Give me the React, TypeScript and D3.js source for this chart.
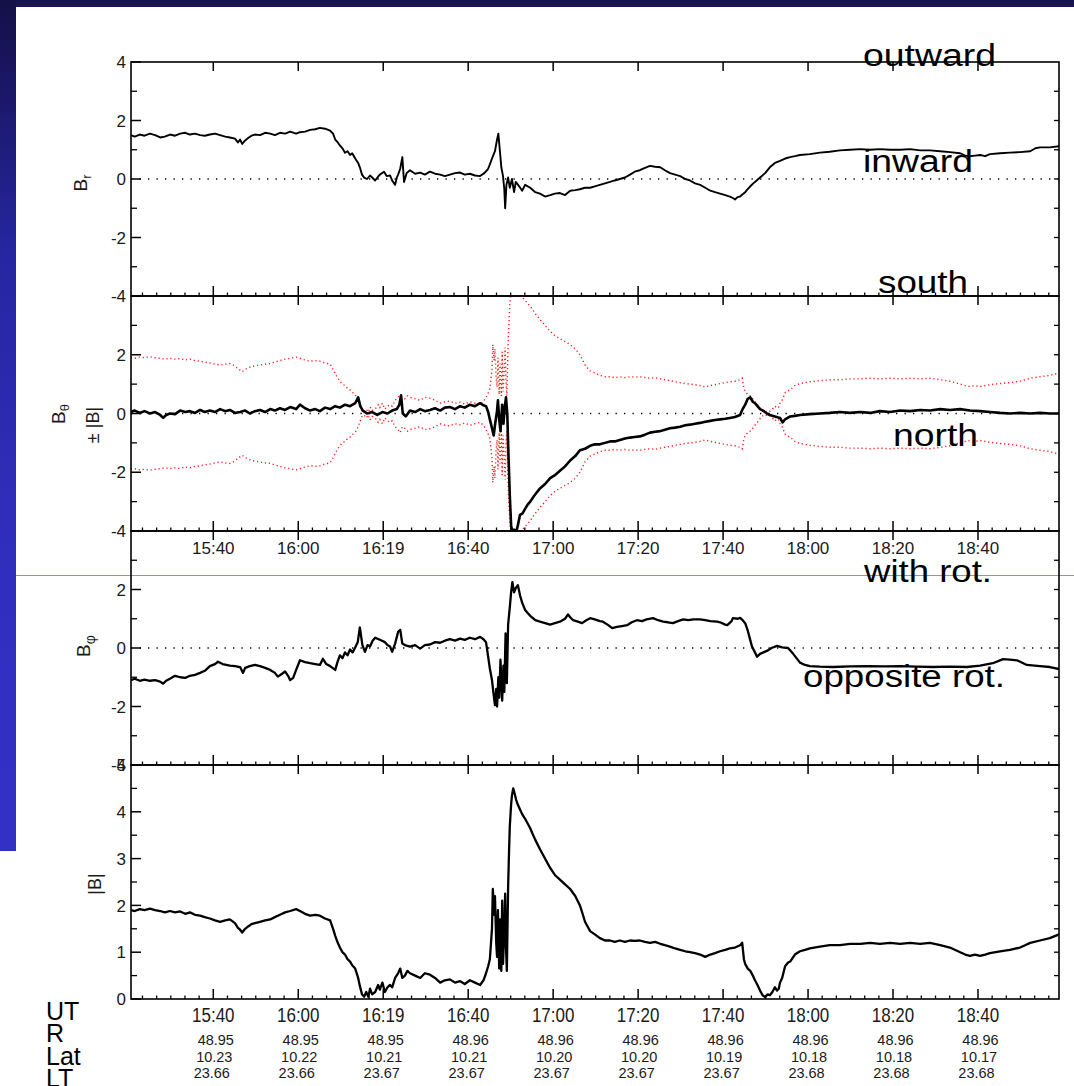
import React, { useEffect } from "react";
import * as d3 from "d3";

// ---------- data (time in minutes after 15:00 UT) ----------
const tickMinutes = [40, 60, 80, 100, 120, 140, 160, 180, 200, 220];
const tickLabels = ["15:40", "16:00", "16:19", "16:40", "17:00", "17:20", "17:40", "18:00", "18:20", "18:40"];
const rValues = ["48.95", "48.95", "48.95", "48.96", "48.96", "48.96", "48.96", "48.96", "48.96", "48.96"];
const latValues = ["10.23", "10.22", "10.21", "10.21", "10.20", "10.20", "10.19", "10.18", "10.18", "10.17"];
const ltValues = ["23.66", "23.66", "23.67", "23.67", "23.67", "23.67", "23.67", "23.68", "23.68", "23.68"];
const rowNames = ["UT", "R", "Lat", "LT"];

const brData: [number, number][] = [
  [20.6,1.50],[21.5,1.45],[22.7,1.52],[23.8,1.48],[25.1,1.55],[26.3,1.50],[27.5,1.42],[28.6,1.45],[29.8,1.52],[31.0,1.48],
  [32.2,1.55],[33.4,1.58],[34.5,1.52],[35.7,1.55],[36.9,1.50],[38.0,1.48],[39.2,1.52],[40.4,1.55],[41.6,1.50],[42.8,1.45],
  [43.9,1.42],[45.1,1.38],[45.8,1.25],[46.3,1.35],[46.8,1.20],[47.5,1.32],[48.2,1.40],[49.0,1.48],[49.8,1.52],[51.0,1.50],
  [52.2,1.58],[53.4,1.55],[54.5,1.50],[55.7,1.58],[56.9,1.55],[58.1,1.62],[59.5,1.55],[60.4,1.60],[61.6,1.62],[62.8,1.68],
  [64.0,1.70],[65.1,1.75],[66.3,1.72],[67.5,1.65],[68.2,1.55],[68.7,1.35],[69.3,1.25],[69.8,1.15],[70.4,1.05],[71.0,0.90],
  [71.6,0.95],[72.2,0.82],[72.7,0.88],[73.4,0.70],[74.1,0.55],[74.5,0.40],[75.0,0.15],[75.5,0.05],[76.2,0.00],[76.9,0.12],
  [77.4,0.05],[78.1,-0.05],[78.8,0.08],[79.2,0.15],[80.2,0.25],[80.8,0.10],[81.6,0.12],[82.1,-0.05],[82.8,-0.20],[83.2,0.05],
  [83.5,0.15],[84.0,0.35],[84.5,0.75],[84.9,-0.10],[85.5,0.20],[86.3,0.30],[87.5,0.18],[88.7,0.22],[89.8,0.15],[91.0,0.25],
  [92.2,0.18],[93.4,0.15],[94.5,0.10],[95.7,0.15],[96.9,0.20],[98.1,0.22],[99.2,0.15],[100.4,0.18],[101.6,0.12],[102.8,0.10],
  [103.8,0.20],[104.7,0.35],[105.1,0.50],[105.6,0.70],[106.3,0.95],[106.8,1.35],[107.1,1.55],[107.5,0.90],[107.8,0.40],[108.2,0.10],
  [108.5,-0.35],[108.7,-1.00],[109.0,-0.20],[109.4,0.05],[109.8,-0.30],[110.3,0.00],[110.8,-0.45],[111.2,-0.10],[112.0,-0.25],[112.7,-0.40],
  [113.4,-0.20],[114.6,-0.30],[115.8,-0.45],[116.9,-0.50],[118.1,-0.60],[119.3,-0.55],[120.4,-0.50],[121.6,-0.48],[122.8,-0.55],[124.0,-0.40],
  [125.2,-0.38],[126.3,-0.35],[127.5,-0.30],[128.7,-0.30],[129.8,-0.25],[131.0,-0.20],[132.2,-0.15],[133.4,-0.10],[134.5,-0.05],[135.7,0.00],
  [136.9,0.05],[138.1,0.15],[139.2,0.25],[140.4,0.30],[141.6,0.38],[142.8,0.45],[144.0,0.42],[145.2,0.40],[146.3,0.30],[147.5,0.20],
  [148.7,0.15],[149.9,0.10],[151.1,0.00],[152.2,-0.05],[153.4,-0.15],[154.6,-0.20],[155.8,-0.30],[157.0,-0.40],[158.1,-0.45],[159.3,-0.50],
  [160.5,-0.55],[161.6,-0.60],[162.3,-0.65],[162.8,-0.70],[163.4,-0.62],[164.0,-0.60],[164.6,-0.52],[165.2,-0.45],[165.8,-0.35],[166.4,-0.25],
  [167.5,-0.10],[168.7,0.05],[169.9,0.20],[171.0,0.40],[172.2,0.55],[173.4,0.62],[174.6,0.70],[175.8,0.75],[176.9,0.78],[178.1,0.82],
  [180.4,0.85],[182.8,0.90],[185.1,0.93],[187.5,0.98],[189.9,1.00],[192.3,1.02],[194.6,1.00],[196.9,1.02],[199.3,1.00],[201.7,1.00],
  [204.0,1.02],[206.4,0.98],[208.7,0.98],[211.1,0.95],[213.4,0.92],[215.8,0.88],[217.0,0.80],[218.1,0.78],[219.3,0.80],[220.5,0.82],
  [221.7,0.78],[222.8,0.85],[225.2,0.88],[227.5,0.90],[229.9,0.92],[232.3,0.95],[233.5,1.05],[234.6,1.08],[236.9,1.08],[239.1,1.12],
];

const bthData: [number, number][] = [
  [20.6,0.05],[21.5,0.10],[22.7,0.02],[23.8,0.08],[25.1,0.00],[26.3,0.05],[27.5,-0.05],[28.2,-0.15],[28.9,-0.05],[29.8,0.00],
  [31.0,-0.02],[32.2,0.10],[33.4,0.05],[34.5,0.08],[35.7,0.02],[36.9,0.12],[38.0,0.05],[39.2,0.10],[40.4,0.05],[41.6,0.15],
  [42.8,0.08],[43.9,0.12],[45.1,0.02],[46.3,0.05],[47.5,0.10],[48.6,0.00],[49.8,0.08],[51.0,0.12],[52.2,0.05],[53.4,0.15],
  [54.5,0.10],[55.7,0.18],[56.9,0.12],[58.1,0.22],[59.5,0.15],[60.4,0.30],[61.6,0.18],[62.8,0.10],[64.0,0.15],[65.1,0.08],
  [66.3,0.20],[67.5,0.15],[68.7,0.25],[69.8,0.20],[71.0,0.30],[72.2,0.25],[73.4,0.35],[74.1,0.55],[74.6,0.25],[75.2,0.10],
  [76.2,0.00],[77.4,0.05],[78.6,-0.05],[79.8,0.05],[81.0,0.00],[82.1,0.10],[83.2,0.15],[83.8,0.30],[84.2,0.62],[84.6,0.00],
  [85.3,-0.10],[86.3,0.10],[87.5,0.05],[88.7,0.15],[89.8,0.08],[91.0,0.12],[92.2,0.18],[93.4,0.10],[94.5,0.20],[95.7,0.22],
  [96.9,0.15],[98.1,0.25],[99.2,0.20],[100.4,0.30],[101.6,0.25],[102.8,0.35],[103.6,0.28],[104.2,0.25],[104.7,0.05],[105.1,-0.20],
  [105.6,-0.50],[106.0,-0.75],[106.3,-0.40],[106.8,0.10],[107.0,0.45],[107.3,-0.20],[107.6,-0.60],[108.0,0.30],[108.3,-0.35],[108.6,0.20],
  [108.9,0.55],[109.2,0.00],[109.5,-1.50],[109.8,-2.80],[110.1,-3.80],[110.4,-4.05],[110.8,-3.95],[111.3,-4.05],[111.7,-3.80],[112.2,-3.45],
  [112.8,-3.40],[113.4,-3.25],[114.0,-3.10],[114.6,-3.00],[115.3,-2.85],[115.8,-2.75],[116.9,-2.55],[118.1,-2.40],[119.3,-2.20],[120.4,-2.10],
  [121.6,-1.95],[122.8,-1.80],[124.0,-1.60],[125.2,-1.45],[126.3,-1.25],[127.5,-1.20],[128.7,-1.10],[129.8,-1.05],[131.0,-1.05],[132.2,-1.00],
  [133.4,-0.95],[134.5,-0.95],[135.7,-0.90],[136.9,-0.85],[138.1,-0.82],[139.2,-0.80],[140.4,-0.78],[141.6,-0.72],[142.8,-0.65],[144.0,-0.62],
  [145.2,-0.60],[146.3,-0.55],[147.5,-0.50],[148.7,-0.48],[149.9,-0.45],[151.1,-0.40],[152.2,-0.38],[153.4,-0.35],[154.6,-0.32],[155.8,-0.28],
  [157.0,-0.25],[158.1,-0.22],[159.3,-0.20],[160.5,-0.18],[161.6,-0.15],[162.8,-0.12],[164.0,-0.05],[164.6,0.15],[165.2,0.30],[165.8,0.50],
  [166.4,0.55],[167.0,0.40],[167.5,0.35],[168.1,0.25],[168.7,0.15],[169.4,0.10],[170.3,0.00],[171.0,-0.05],[172.2,-0.10],[173.4,-0.15],
  [174.0,-0.30],[174.6,-0.20],[175.8,-0.10],[176.9,-0.08],[178.1,-0.05],[180.4,-0.02],[182.8,0.00],[185.1,0.02],[187.5,0.05],[189.9,0.02],
  [192.3,0.05],[194.6,0.02],[196.9,0.08],[199.3,0.05],[201.7,0.10],[204.0,0.08],[206.4,0.12],[208.7,0.10],[211.1,0.15],[213.4,0.12],
  [215.8,0.15],[218.1,0.10],[220.5,0.08],[222.8,0.05],[225.2,0.02],[227.5,0.00],[229.9,0.02],[232.3,0.00],[234.6,0.02],[236.9,0.00],[239.1,0.00],
];

const bphData: [number, number][] = [
  [20.6,-1.10],[21.5,-1.05],[22.7,-1.12],[23.8,-1.08],[25.1,-1.12],[26.3,-1.10],[27.5,-1.15],[28.2,-1.22],[28.9,-1.12],[29.8,-1.05],
  [31.0,-0.95],[32.2,-1.00],[33.4,-1.02],[34.5,-0.95],[35.7,-0.92],[36.9,-0.85],[38.0,-0.78],[39.2,-0.62],[40.4,-0.55],[41.1,-0.47],
  [42.2,-0.55],[43.9,-0.60],[45.1,-0.62],[46.3,-0.65],[47.0,-0.85],[47.5,-0.68],[48.6,-0.62],[49.8,-0.58],[51.0,-0.62],[52.2,-0.68],
  [53.4,-0.75],[54.5,-0.85],[55.2,-0.98],[56.2,-0.88],[56.9,-0.80],[57.6,-0.95],[58.1,-1.10],[58.8,-1.02],[59.5,-0.75],[60.4,-0.42],
  [61.6,-0.48],[62.8,-0.52],[64.0,-0.55],[65.1,-0.58],[65.8,-0.37],[66.6,-0.55],[67.5,-0.62],[68.7,-0.75],[69.3,-0.45],[69.8,-0.25],
  [70.4,-0.35],[71.0,-0.15],[71.6,-0.25],[72.2,-0.05],[72.8,-0.15],[73.4,0.02],[74.0,0.20],[74.5,0.70],[75.1,0.10],[75.7,-0.13],
  [76.3,0.10],[76.9,0.05],[77.5,0.25],[78.1,0.35],[79.2,0.28],[80.4,0.20],[81.0,0.10],[81.6,0.05],[82.1,-0.13],[82.8,0.15],
  [83.5,0.55],[84.0,0.62],[84.5,0.15],[85.1,0.10],[86.3,0.05],[87.5,0.10],[88.7,-0.02],[89.8,0.10],[91.0,0.12],[92.2,0.20],
  [93.4,0.18],[94.5,0.25],[95.7,0.30],[96.9,0.25],[98.1,0.32],[99.2,0.28],[100.4,0.35],[101.6,0.30],[102.8,0.38],[103.6,0.30],
  [104.2,0.20],[104.7,-0.30],[105.1,-0.70],[105.6,-1.10],[106.0,-1.60],[106.3,-1.95],[106.6,-1.40],[106.8,-2.00],[107.1,-1.00],[107.3,-1.70],
  [107.6,-0.40],[108.0,-1.80],[108.3,-0.60],[108.5,-1.50],[108.8,0.50],[109.1,-1.20],[109.4,0.80],[109.8,1.40],[110.1,1.90],[110.4,2.25],
  [110.8,1.90],[111.2,2.05],[111.7,2.15],[112.2,1.80],[112.7,1.55],[113.4,1.30],[114.0,1.20],[114.6,1.10],[115.8,0.95],[116.9,0.90],
  [118.1,0.85],[119.3,0.80],[120.4,0.85],[121.6,0.90],[122.8,1.00],[123.5,1.15],[124.0,1.05],[124.7,0.95],[125.8,0.90],[126.8,0.85],
  [127.8,0.95],[128.7,1.02],[129.8,0.98],[131.0,0.92],[131.7,0.90],[132.8,0.80],[133.9,0.68],[135.0,0.72],[136.2,0.75],[137.4,0.78],
  [138.5,0.88],[139.7,0.95],[140.9,0.92],[142.0,0.98],[143.5,1.02],[144.7,0.95],[145.9,0.90],[147.0,0.88],[148.2,0.85],[149.4,0.92],
  [150.6,0.98],[151.8,0.95],[153.0,0.98],[154.6,0.98],[155.8,0.95],[157.0,0.92],[158.6,0.90],[159.3,0.88],[160.5,0.80],[161.0,0.78],
  [162.0,0.92],[162.3,1.02],[163.5,1.00],[164.0,1.03],[164.6,0.95],[165.2,0.85],[165.8,0.60],[166.4,0.27],[166.8,0.05],[167.5,-0.15],
  [168.0,-0.30],[168.7,-0.20],[169.5,-0.15],[170.3,-0.10],[171.4,0.00],[172.7,0.07],[173.9,0.02],[175.3,0.00],[176.5,-0.20],[178.1,-0.50],
  [179.3,-0.58],[180.4,-0.62],[182.8,-0.64],[185.9,-0.65],[189.9,-0.63],[193.9,-0.62],[197.8,-0.63],[201.7,-0.62],[205.6,-0.64],[209.4,-0.65],
  [213.4,-0.64],[217.4,-0.65],[220.5,-0.60],[223.5,-0.52],[225.9,-0.38],[227.5,-0.40],[229.2,-0.42],[231.5,-0.58],[234.6,-0.62],[236.9,-0.65],[239.1,-0.72],
];

const bmagData: [number, number][] = [
  [20.6,1.90],[21.5,1.88],[22.7,1.92],[23.8,1.90],[25.1,1.93],[26.3,1.90],[27.5,1.88],[28.6,1.85],[29.8,1.88],[31.0,1.85],
  [32.2,1.87],[33.4,1.82],[34.5,1.85],[35.7,1.80],[36.9,1.78],[38.0,1.75],[39.2,1.72],[40.4,1.68],[41.6,1.65],[42.8,1.68],
  [43.9,1.70],[45.1,1.62],[45.8,1.52],[46.3,1.48],[46.8,1.42],[47.5,1.50],[48.2,1.55],[49.0,1.60],[49.8,1.62],[51.0,1.65],
  [52.2,1.68],[53.4,1.70],[54.5,1.75],[55.7,1.80],[56.9,1.85],[58.1,1.88],[59.5,1.92],[60.4,1.88],[61.6,1.82],[62.8,1.78],
  [64.0,1.80],[65.1,1.78],[66.3,1.72],[67.5,1.68],[68.2,1.50],[68.7,1.35],[69.3,1.20],[69.8,1.10],[70.4,1.00],[71.0,0.95],
  [71.6,0.85],[72.2,0.80],[72.7,0.72],[73.4,0.65],[74.1,0.45],[74.5,0.28],[75.0,0.10],[75.5,0.05],[76.0,0.15],[76.5,0.05],
  [76.9,0.22],[77.4,0.10],[78.1,0.15],[78.8,0.30],[79.2,0.20],[79.8,0.35],[80.4,0.15],[81.0,0.25],[81.6,0.30],[82.1,0.25],
  [82.8,0.45],[83.5,0.55],[84.0,0.65],[84.5,0.45],[85.1,0.50],[85.7,0.60],[86.3,0.55],[87.5,0.50],[88.7,0.45],[89.8,0.55],
  [91.0,0.52],[92.2,0.45],[93.4,0.35],[94.5,0.40],[95.7,0.42],[96.9,0.35],[98.1,0.38],[99.2,0.32],[100.4,0.40],[101.6,0.35],
  [102.8,0.30],[103.6,0.40],[104.2,0.55],[104.7,0.70],[105.1,0.85],[105.6,1.50],[105.8,2.35],[106.1,1.80],[106.3,2.20],[106.6,1.20],
  [106.8,0.90],[107.0,1.90],[107.3,0.65],[107.5,1.70],[107.8,0.60],[108.0,2.10],[108.2,0.75],[108.5,1.50],[108.7,2.25],[108.9,1.10],
  [109.1,0.60],[109.4,2.40],[109.6,3.10],[109.8,3.70],[110.1,4.15],[110.3,4.35],[110.6,4.50],[110.9,4.40],[111.3,4.25],[111.7,4.15],
  [112.2,4.05],[112.7,3.95],[113.4,3.85],[114.0,3.75],[114.6,3.65],[115.3,3.50],[115.8,3.40],[116.9,3.20],[118.1,3.00],[119.3,2.80],
  [120.4,2.65],[121.6,2.55],[122.8,2.45],[124.0,2.35],[125.2,2.20],[126.3,2.00],[127.0,1.80],[127.5,1.65],[128.1,1.55],[128.7,1.45],
  [129.8,1.38],[131.0,1.30],[132.2,1.25],[133.4,1.25],[134.5,1.22],[135.7,1.25],[136.9,1.22],[138.1,1.25],[139.2,1.24],[140.4,1.25],
  [141.6,1.22],[142.8,1.20],[144.0,1.22],[145.2,1.18],[146.3,1.15],[147.5,1.12],[148.7,1.08],[149.9,1.05],[151.1,1.02],[152.2,1.00],
  [153.4,0.98],[154.6,0.95],[155.8,0.90],[157.0,0.95],[158.1,0.98],[159.3,1.02],[160.5,1.05],[161.6,1.08],[162.8,1.10],[164.0,1.15],
  [164.5,1.20],[164.9,0.85],[165.2,0.75],[165.8,0.65],[166.4,0.60],[167.0,0.50],[167.5,0.40],[168.1,0.30],[168.7,0.18],[169.3,0.08],
  [169.9,0.04],[170.5,0.10],[171.0,0.08],[171.6,0.15],[172.2,0.25],[172.7,0.18],[173.1,0.22],[173.4,0.35],[173.9,0.45],[174.6,0.70],
  [175.3,0.78],[175.8,0.80],[176.9,0.95],[178.1,1.02],[179.3,1.05],[180.4,1.08],[182.8,1.12],[185.1,1.15],[187.5,1.15],[189.9,1.18],
  [192.3,1.18],[194.6,1.20],[196.9,1.18],[199.3,1.20],[201.7,1.18],[204.0,1.20],[206.4,1.18],[208.7,1.20],[211.1,1.15],[213.4,1.10],
  [215.8,1.00],[217.0,0.95],[218.1,0.92],[219.3,0.95],[220.5,0.92],[221.7,0.95],[222.8,0.98],[225.2,1.02],[227.5,1.05],[229.9,1.10],
  [231.1,1.15],[232.3,1.20],[234.6,1.25],[236.9,1.30],[239.1,1.38],
];

const FONT = "'Liberation Sans', Arial, Helvetica, sans-serif";

type Panel = {
  id: string;
  top: number;
  bottom: number;
  domain: [number, number];
  labels: number[];
  leftMajor: number[];
  leftMinor: number[];
  rightTicks: number[];
  zero: boolean;
};

const panels: Panel[] = [
  { id: "br", top: 62, bottom: 296, domain: [-4, 4], labels: [4, 2, 0, -2, -4], leftMajor: [-4, -2, 0, 2, 4], leftMinor: [-3, -1, 1, 3], rightTicks: [-3, -2, -1, 0, 1, 2, 3], zero: true },
  { id: "bth", top: 296, bottom: 531, domain: [-4, 4], labels: [2, 0, -2, -4], leftMajor: [-4, -2, 0, 2, 4], leftMinor: [-3, -1, 1, 3], rightTicks: [-3, -2, -1, 0, 1, 2, 3], zero: true },
  { id: "bph", top: 531, bottom: 765, domain: [-4, 4], labels: [2, 0, -2, -4], leftMajor: [-4, -2, 0, 2, 4], leftMinor: [-3, -1, 1, 3], rightTicks: [-3, -2, -1, 0, 1, 2, 3], zero: true },
  { id: "bmag", top: 765, bottom: 999, domain: [0, 5], labels: [5, 4, 3, 2, 1, 0], leftMajor: [0, 1, 2, 3, 4, 5], leftMinor: [0.5, 1.5, 2.5, 3.5, 4.5], rightTicks: [0.5, 1, 1.5, 2, 2.5, 3, 3.5, 4, 4.5], zero: false },
];

export default function App() {
  useEffect(() => {
    document.body.style.margin = "0";
    document.body.style.overflow = "hidden";
  }, []);

  const W = 1074, H = 1086;
  const X0 = 131, X1 = 1059;
  const x = d3.scaleLinear().domain([20.63, 239.07]).range([X0, X1]);
  const ys = panels.map((p) => d3.scaleLinear().domain(p.domain).range([p.bottom, p.top]));

  const minorTimes = d3.range(-6, 80)
    .map((k) => 40 + (k * 20) / 6)
    .filter((t) => t > 20.7 && t < 239 && Math.abs(((t - 40) / 20) - Math.round((t - 40) / 20)) > 1e-6);

  const mkLine = (yS: d3.ScaleLinear<number, number>) =>
    d3.line<[number, number]>().x((d) => x(d[0])).y((d) => yS(d[1]));

  const redUp: [number, number][] = bmagData.map((d) => [d[0], d[1]]);
  const redDown: [number, number][] = bmagData.map((d) => [d[0], -d[1]]);

  const series = [
    { p: 0, data: brData, w: 1.9 },
    { p: 1, data: bthData, w: 2.6 },
    { p: 2, data: bphData, w: 2.3 },
    { p: 3, data: bmagData, w: 2.3 },
  ];

  const annotations = [
    { text: "outward", x: 863, y: 66, len: 133 },
    { text: "inward", x: 863, y: 172, len: 110 },
    { text: "south", x: 878, y: 293, len: 90 },
    { text: "north", x: 893, y: 446, len: 85 },
    { text: "with rot.", x: 864, y: 582, len: 128 },
    { text: "opposite rot.", x: 803, y: 687, len: 202 },
  ];

  return (
    <svg width={W} height={H} style={{ position: "absolute", left: 0, top: 0, display: "block" }} fontFamily={FONT}>
      <defs>
        <linearGradient id="strip" x1="0" y1="0" x2="0" y2="1">
          <stop offset="0" stopColor="#141048" />
          <stop offset="0.3" stopColor="#2626a2" />
          <stop offset="0.65" stopColor="#2f2fbe" />
          <stop offset="1" stopColor="#3131c6" />
        </linearGradient>
        {panels.map((p) => (
          <clipPath id={`clip-${p.id}`} key={p.id}>
            <rect x={X0} y={p.top} width={X1 - X0} height={p.bottom - p.top} />
          </clipPath>
        ))}
      </defs>

      <rect x={0} y={0} width={W} height={H} fill="#ffffff" />
      <rect x={0} y={0} width={W} height={7} fill="#17154e" />
      <rect x={0} y={0} width={16} height={851} fill="url(#strip)" />
      <rect x={0} y={0} width={16} height={7} fill="#141048" />

      {/* separator line between the two pasted pictures */}
      <line x1={16} x2={W} y1={575.5} y2={575.5} stroke="#8c8ce6" strokeWidth={1} />

      {panels.map((p, i) => {
        const y = ys[i];
        return (
          <g key={p.id}>
            {p.zero && (
              <line x1={X0} x2={X1} y1={y(0)} y2={y(0)} stroke="#000" strokeWidth={1.3} strokeDasharray="1.3,7.2" />
            )}
            {p.leftMajor.map((v) => (
              <line key={`lm${v}`} x1={X0} x2={X0 + 10} y1={y(v)} y2={y(v)} stroke="#000" strokeWidth={1.5} />
            ))}
            {p.leftMinor.map((v) => (
              <line key={`ln${v}`} x1={X0} x2={X0 + 6} y1={y(v)} y2={y(v)} stroke="#000" strokeWidth={1.3} />
            ))}
            {p.rightTicks.map((v) => (
              <line key={`r${v}`} x1={X1 - 5} x2={X1} y1={y(v)} y2={y(v)} stroke="#000" strokeWidth={1.3} />
            ))}
            {tickMinutes.map((t) => (
              <line key={`tt${t}`} x1={x(t)} x2={x(t)} y1={p.top} y2={p.top + 9} stroke="#000" strokeWidth={1.5} />
            ))}
            {tickMinutes.map((t) => (
              <line key={`bt${t}`} x1={x(t)} x2={x(t)} y1={p.bottom} y2={p.bottom - 10} stroke="#000" strokeWidth={1.5} />
            ))}
            {minorTimes.map((t) => (
              <line key={`bm${t}`} x1={x(t)} x2={x(t)} y1={p.bottom} y2={p.bottom - 3.5} stroke="#000" strokeWidth={1.3} />
            ))}
            {p.labels.map((v) => (
              <text key={`lab${v}`} x={126} y={y(v)} dy="0.36em" textAnchor="end" fontSize={17} fill="#1a1a1a">
                {v}
              </text>
            ))}
          </g>
        );
      })}

      {/* data */}
      <g clipPath="url(#clip-bth)">
        <path d={mkLine(ys[1])(redUp) || ""} fill="none" stroke="#ff1a1a" strokeWidth={1.4} strokeDasharray="1.2,2.8" />
        <path d={mkLine(ys[1])(redDown) || ""} fill="none" stroke="#ff1a1a" strokeWidth={1.4} strokeDasharray="1.2,2.8" />
      </g>
      {series.map((s) => (
        <g key={s.p} clipPath={`url(#clip-${panels[s.p].id})`}>
          <path d={mkLine(ys[s.p])(s.data) || ""} fill="none" stroke="#000" strokeWidth={s.w} strokeLinejoin="round" />
        </g>
      ))}

      {/* frames */}
      {panels.map((p) => (
        <rect key={`f${p.id}`} x={X0} y={p.top} width={X1 - X0} height={p.bottom - p.top} fill="none" stroke="#000" strokeWidth={1.6} />
      ))}

      {tickMinutes.map((t, i) => (
        <text key={`ut1${t}`} x={x(t)} y={554} textAnchor="middle" fontSize={17} fill="#1a1a1a">
          {tickLabels[i]}
        </text>
      ))}
      {tickMinutes.map((t, i) => (
        <text key={`ut2${t}`} transform={`translate(${x(t)},1022) scale(1,1.18)`} textAnchor="middle" fontSize={17} fill="#1a1a1a">
          {tickLabels[i]}
        </text>
      ))}
      {tickMinutes.map((t, i) => (
        <g key={`eph${t}`} fontSize={14.5} fill="#1a1a1a" textAnchor="middle">
          <text x={x(t) + 2.5} y={1045}>{rValues[i]}</text>
          <text x={x(t) + 1} y={1062}>{latValues[i]}</text>
          <text x={x(t) - 1.5} y={1078}>{ltValues[i]}</text>
        </g>
      ))}
      {rowNames.map((n, i) => (
        <text key={n} x={46} y={1020 + i * 22.3} fontSize={25} fill="#000">
          {n}
        </text>
      ))}

      {/* axis titles */}
      <text transform="translate(87,183) rotate(-90)" textAnchor="middle" fontSize={19} fill="#1a1a1a">
        B<tspan fontSize={13} dy={4}>r</tspan>
      </text>
      <text transform="translate(65,414) rotate(-90)" textAnchor="middle" fontSize={19} fill="#1a1a1a">
        B<tspan fontSize={13} dy={4}>θ</tspan>
      </text>
      <text transform="translate(99,425) rotate(-90)" textAnchor="middle" fontSize={18} fill="#1a1a1a">
        ± |B|
      </text>
      <text transform="translate(90,646) rotate(-90)" textAnchor="middle" fontSize={19} fill="#1a1a1a">
        B<tspan fontSize={14} dy={5}>φ</tspan>
      </text>
      <text transform="translate(101,884) rotate(-90)" textAnchor="middle" fontSize={18} fill="#1a1a1a">
        |B|
      </text>

      {annotations.map((a) => (
        <text key={a.text} x={a.x} y={a.y} fontSize={31} fill="#000" textLength={a.len} lengthAdjust="spacingAndGlyphs">
          {a.text}
        </text>
      ))}
    </svg>
  );
}
